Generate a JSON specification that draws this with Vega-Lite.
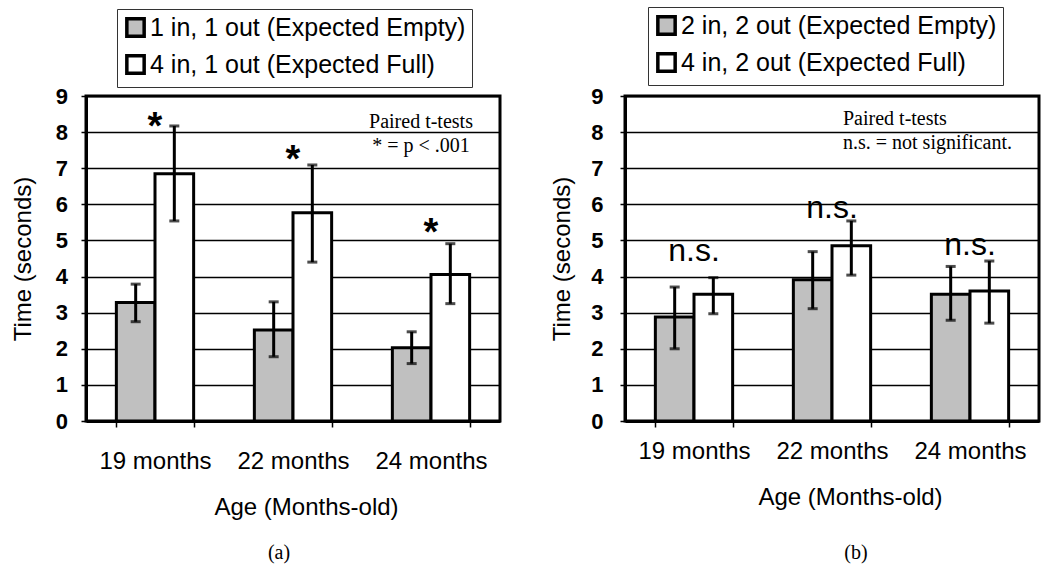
{
  "$schema": "https://vega.github.io/schema/vega-lite/v6.json",
  "background": "white",
  "padding": {"left": 9, "top": 5, "right": 5, "bottom": 5},
  "bounds": "flush",
  "spacing": 125,
  "datasets": {
    "barsA": [
      {"age": "19 months", "grp": "Empty", "cond": "1 in, 1 out (Expected Empty)", "mean": 3.28, "lo": 2.75, "hi": 3.79},
      {"age": "19 months", "grp": "Full", "cond": "4 in, 1 out (Expected Full)", "mean": 6.85, "lo": 5.54, "hi": 8.17},
      {"age": "22 months", "grp": "Empty", "cond": "1 in, 1 out (Expected Empty)", "mean": 2.52, "lo": 1.78, "hi": 3.30},
      {"age": "22 months", "grp": "Full", "cond": "4 in, 1 out (Expected Full)", "mean": 5.77, "lo": 4.40, "hi": 7.09},
      {"age": "24 months", "grp": "Empty", "cond": "1 in, 1 out (Expected Empty)", "mean": 2.03, "lo": 1.59, "hi": 2.47},
      {"age": "24 months", "grp": "Full", "cond": "4 in, 1 out (Expected Full)", "mean": 4.06, "lo": 3.25, "hi": 4.91}
    ],
    "barsB": [
      {"age": "19 months", "grp": "Empty", "cond": "2 in, 2 out (Expected Empty)", "mean": 2.88, "lo": 2.00, "hi": 3.71},
      {"age": "19 months", "grp": "Full", "cond": "4 in, 2 out (Expected Full)", "mean": 3.51, "lo": 2.97, "hi": 3.97},
      {"age": "22 months", "grp": "Empty", "cond": "2 in, 2 out (Expected Empty)", "mean": 3.91, "lo": 3.11, "hi": 4.69},
      {"age": "22 months", "grp": "Full", "cond": "4 in, 2 out (Expected Full)", "mean": 4.85, "lo": 4.04, "hi": 5.54},
      {"age": "24 months", "grp": "Empty", "cond": "2 in, 2 out (Expected Empty)", "mean": 3.51, "lo": 2.79, "hi": 4.28},
      {"age": "24 months", "grp": "Full", "cond": "4 in, 2 out (Expected Full)", "mean": 3.60, "lo": 2.71, "hi": 4.43}
    ],
    "starsA": [
      {"age": "19 months", "y": 8.4, "label": "*"},
      {"age": "22 months", "y": 7.48, "label": "*"},
      {"age": "24 months", "y": 5.45, "label": "*"}
    ],
    "nsB": [
      {"age": "19 months", "y": 4.65, "label": "n.s."},
      {"age": "22 months", "y": 5.84, "label": "n.s."},
      {"age": "24 months", "y": 4.82, "label": "n.s."}
    ],
    "notesA": [
      {"age": "24 months", "y": 8.28, "label": "Paired t-tests"},
      {"age": "24 months", "y": 7.62, "label": "* = p < .001"}
    ],
    "notesB": [
      {"age": "22 months", "y": 8.36, "label": "Paired t-tests"},
      {"age": "22 months", "y": 7.7, "label": "n.s. = not significant."}
    ]
  },
  "hconcat": [
    {
      "width": 414,
      "height": 325,
      "title": {"text": "(a)", "orient": "bottom", "frame": "group", "anchor": "middle", "dx": -14, "offset": 24, "font": "Liberation Serif", "fontSize": 20, "fontWeight": "normal", "color": "black"},
      "encoding": {
        "x": {
          "field": "age", "type": "nominal",
          "scale": {"domain": ["19 months", "22 months", "24 months"], "paddingInner": 0.44, "paddingOuter": 0.22},
          "axis": {"title": "Age (Months-old)", "labelPadding": 34, "titleX": 220, "titleY": 86, "titleAlign": "center", "titleBaseline": "middle"}
        }
      },
      "layer": [
        {
          "data": {"name": "barsA"},
          "mark": {"type": "bar", "stroke": "black", "strokeWidth": 3},
          "encoding": {
            "xOffset": {"field": "grp", "type": "nominal", "scale": {"domain": ["Empty", "Full"], "paddingInner": 0, "paddingOuter": 0}},
            "y": {"field": "mean", "type": "quantitative", "title": "Time (seconds)", "scale": {"domain": [0, 9]}, "axis": {"labelPadding": 13.5, "titlePadding": 20}},
            "color": {
              "field": "cond", "type": "nominal",
              "scale": {"domain": ["1 in, 1 out (Expected Empty)", "4 in, 1 out (Expected Full)"], "range": ["#c0c0c0", "#ffffff"]},
              "legend": {"orient": "none", "legendX": 31, "legendY": -87, "title": null}
            }
          }
        },
        {
          "data": {"name": "barsA"},
          "mark": {"type": "rule", "color": "black", "strokeWidth": 3},
          "encoding": {
            "xOffset": {"field": "grp", "type": "nominal"},
            "y": {"field": "lo", "type": "quantitative", "title": "Time (seconds)"},
            "y2": {"field": "hi"}
          }
        },
        {
          "data": {"name": "barsA"},
          "mark": {"type": "tick", "color": "black", "thickness": 3, "size": 10, "orient": "horizontal"},
          "encoding": {
            "xOffset": {"field": "grp", "type": "nominal"},
            "y": {"field": "lo", "type": "quantitative", "title": "Time (seconds)"}
          }
        },
        {
          "data": {"name": "barsA"},
          "mark": {"type": "tick", "color": "black", "thickness": 3, "size": 10, "orient": "horizontal"},
          "encoding": {
            "xOffset": {"field": "grp", "type": "nominal"},
            "y": {"field": "hi", "type": "quantitative", "title": "Time (seconds)"}
          }
        },
        {
          "data": {"name": "starsA"},
          "mark": {"type": "text", "font": "Liberation Sans", "fontSize": 38, "fontWeight": "bold", "baseline": "alphabetic", "dy": 21, "color": "black"},
          "encoding": {
            "y": {"field": "y", "type": "quantitative", "title": "Time (seconds)"},
            "text": {"field": "label"}
          }
        },
        {
          "data": {"name": "notesA"},
          "mark": {"type": "text", "font": "Liberation Serif", "fontSize": 20, "baseline": "middle", "align": "center", "dx": -10, "color": "black"},
          "encoding": {
            "y": {"field": "y", "type": "quantitative", "title": "Time (seconds)"},
            "text": {"field": "label"}
          }
        }
      ]
    },
    {
      "width": 414,
      "height": 325,
      "title": {"text": "(b)", "orient": "bottom", "frame": "group", "anchor": "middle", "dx": 24, "offset": 34, "font": "Liberation Serif", "fontSize": 20, "fontWeight": "normal", "color": "black"},
      "encoding": {
        "x": {
          "field": "age", "type": "nominal",
          "scale": {"domain": ["19 months", "22 months", "24 months"], "paddingInner": 0.44, "paddingOuter": 0.22},
          "axis": {"title": "Age (Months-old)", "labelPadding": 24, "titleX": 225, "titleY": 76, "titleAlign": "center", "titleBaseline": "middle"}
        }
      },
      "layer": [
        {
          "data": {"name": "barsB"},
          "mark": {"type": "bar", "stroke": "black", "strokeWidth": 3},
          "encoding": {
            "xOffset": {"field": "grp", "type": "nominal", "scale": {"domain": ["Empty", "Full"], "paddingInner": 0, "paddingOuter": 0}},
            "y": {"field": "mean", "type": "quantitative", "title": "Time (seconds)", "scale": {"domain": [0, 9]}, "axis": {"labelPadding": 17, "titlePadding": 16}},
            "color": {
              "field": "cond", "type": "nominal",
              "scale": {"domain": ["2 in, 2 out (Expected Empty)", "4 in, 2 out (Expected Full)"], "range": ["#c0c0c0", "#ffffff"]},
              "legend": {"orient": "none", "legendX": 23, "legendY": -89, "title": null}
            }
          }
        },
        {
          "data": {"name": "barsB"},
          "mark": {"type": "rule", "color": "black", "strokeWidth": 3},
          "encoding": {
            "xOffset": {"field": "grp", "type": "nominal"},
            "y": {"field": "lo", "type": "quantitative", "title": "Time (seconds)"},
            "y2": {"field": "hi"}
          }
        },
        {
          "data": {"name": "barsB"},
          "mark": {"type": "tick", "color": "black", "thickness": 3, "size": 10, "orient": "horizontal"},
          "encoding": {
            "xOffset": {"field": "grp", "type": "nominal"},
            "y": {"field": "lo", "type": "quantitative", "title": "Time (seconds)"}
          }
        },
        {
          "data": {"name": "barsB"},
          "mark": {"type": "tick", "color": "black", "thickness": 3, "size": 10, "orient": "horizontal"},
          "encoding": {
            "xOffset": {"field": "grp", "type": "nominal"},
            "y": {"field": "hi", "type": "quantitative", "title": "Time (seconds)"}
          }
        },
        {
          "data": {"name": "nsB"},
          "mark": {"type": "text", "font": "Liberation Sans", "fontSize": 32, "baseline": "alphabetic", "dy": 8, "color": "black"},
          "encoding": {
            "y": {"field": "y", "type": "quantitative", "title": "Time (seconds)"},
            "text": {"field": "label"}
          }
        },
        {
          "data": {"name": "notesB"},
          "mark": {"type": "text", "font": "Liberation Serif", "fontSize": 20, "baseline": "middle", "align": "left", "dx": 11, "color": "black"},
          "encoding": {
            "y": {"field": "y", "type": "quantitative", "title": "Time (seconds)"},
            "text": {"field": "label"}
          }
        }
      ]
    }
  ],
  "resolve": {"scale": {"color": "independent"}, "legend": {"color": "independent"}},
  "config": {
    "font": "Liberation Sans",
    "view": {"stroke": "black", "strokeWidth": 3},
    "axis": {
      "domainColor": "black", "domainWidth": 3,
      "tickColor": "black", "tickWidth": 1.5, "tickSize": 5,
      "labelColor": "black", "titleColor": "black",
      "labelFont": "Liberation Sans", "titleFont": "Liberation Sans",
      "titleFontWeight": "normal", "titleFontSize": 24
    },
    "axisX": {"labelFontSize": 24, "labelAngle": 0, "labelBaseline": "middle", "tickBand": "extent", "grid": false, "labelLimit": 0, "tickSize": 6},
    "axisY": {"labelFontSize": 22, "labelFontWeight": "bold", "values": [0, 1, 2, 3, 4, 5, 6, 7, 8, 9], "grid": true, "gridColor": "black", "gridWidth": 1.5, "gridOpacity": 1},
    "legend": {
      "strokeColor": "#333333", "padding": 6, "fillColor": "white",
      "symbolType": "square", "symbolSize": 300, "symbolStrokeColor": "black", "symbolStrokeWidth": 3.5,
      "labelFontSize": 25, "labelFont": "Liberation Sans", "labelColor": "black", "labelLimit": 0,
      "rowPadding": 4, "labelOffset": 2
    }
  }
}
